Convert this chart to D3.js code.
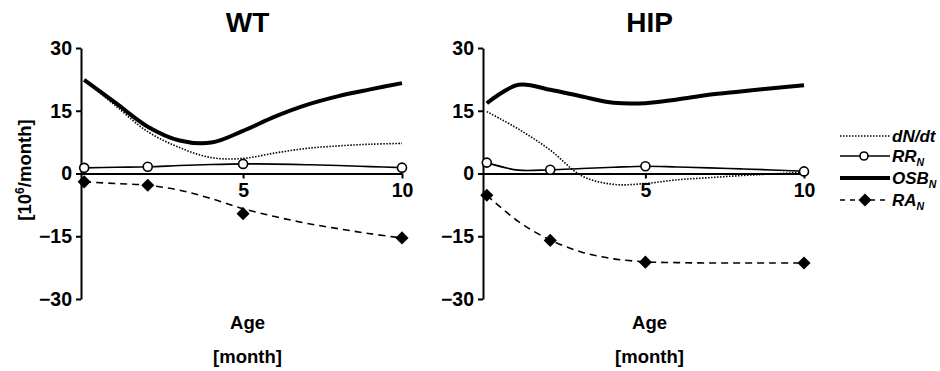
<!DOCTYPE html>
<html>
<head>
  <meta charset="utf-8">
  <script src="https://cdn.jsdelivr.net/npm/d3@7/dist/d3.min.js"></script>
  <style>
    body { margin: 0; background: #fff; }
    text { font-family: "Liberation Sans", Arial, sans-serif; font-weight: bold; fill: #000; }
  </style>
</head>
<body>
  <div id="chart"></div>
<script>
  // data
  const panels = ["WT", "HIP"];
  const ageGrid = [0, 1, 2, 3, 4, 5, 6, 7, 8, 9, 10];
  const markerAges = [0, 2, 5, 10];
  const yTicks = [30, 15, 0, -15, -30];
  const xTicks = [5, 10];

  // WT
  const wtDNdt = [22.4, 16.1, 10.0, 6.2, 3.8, 3.6, 4.9, 6.0, 6.6, 7.0, 7.2];
  const wtOSB  = [22.4, 16.8, 11.2, 7.9, 7.4, 10.2, 13.6, 16.4, 18.5, 20.1, 21.6];
  const wtRR   = [1.35, 1.5, 1.6, 1.9, 2.15, 2.3, 2.25, 2.1, 1.9, 1.65, 1.4];
  const wtRA   = [-2.0, -2.4, -2.8, -4.0, -6.0, -8.4, -10.3, -11.9, -13.2, -14.4, -15.4];
  const wtRRMarkers = [1.35, 1.6, 2.3, 1.4];
  const wtRAMarkers = [-2.0, -2.8, -9.6, -15.4];

  // HIP
  const hipDNdt = [14.8, 10.6, 5.6, -0.6, -2.6, -2.4, -1.5, -1.0, -0.5, -0.1, 0.3];
  const hipOSB  = [16.8, 21.2, 20.0, 18.4, 16.9, 16.8, 17.7, 18.8, 19.6, 20.4, 21.1];
  const hipRR   = [2.6, 0.8, 0.9, 1.2, 1.5, 1.75, 1.55, 1.35, 1.1, 0.85, 0.55];
  const hipRA   = [-5.2, -11.5, -15.9, -18.8, -20.4, -21.1, -21.3, -21.4, -21.4, -21.4, -21.4];
  const hipRRMarkers = [2.6, 0.9, 1.75, 0.5];
  const hipRAMarkers = [-5.2, -16.0, -21.2, -21.4];

  const width = 940, height = 371;

  const svg = d3.select("#chart")
    .append("svg")
      .attr("width", width)
      .attr("height", height);

  const y = d3.scaleLinear()
    .domain([-30, 30])
    .range([299, 48]);

  const xWT = d3.scaleLinear().domain([-0.1, 10]).range([81, 402]);
  const xHIP = d3.scaleLinear().domain([-0.12, 10]).range([483, 804]);

  const panelData = [
    {name: panels[0], x: xWT, dndt: wtDNdt, osb: wtOSB, rr: wtRR, ra: wtRA, rrM: wtRRMarkers, raM: wtRAMarkers},
    {name: panels[1], x: xHIP, dndt: hipDNdt, osb: hipOSB, rr: hipRR, ra: hipRA, rrM: hipRRMarkers, raM: hipRAMarkers}
  ];

  const diamond = d3.symbol().type(d3.symbolDiamond2).size(110);

  panelData.forEach((p, i) => {
    const x = p.x;
    const g = svg.append("g");
    const cx = (x.range()[0] + x.range()[1]) / 2 + 6;

    // y axis
    const yAxis = g.append("g")
      .attr("transform", "translate(" + x.range()[0] + ",0)")
      .call(d3.axisLeft(y).tickValues(yTicks).tickSize(5).tickSizeOuter(0).tickPadding(4));
    yAxis.selectAll("text").style("font-size", "19.5px");

    // x axis on the zero line
    const xAxis = g.append("g")
      .attr("transform", "translate(0," + y(0) + ")")
      .call(d3.axisBottom(x).tickValues(xTicks).tickSize(5).tickSizeOuter(0).tickPadding(5));
    xAxis.selectAll("text").style("font-size", "19.5px");

    g.selectAll(".domain, .tick line").attr("stroke", "#000").attr("stroke-width", 2);

    const line = d3.line()
      .x((d, j) => x(ageGrid[j]))
      .y(d => y(d))
      .curve(d3.curveCatmullRom.alpha(0.5));

    g.append("path").attr("d", line(p.dndt))
      .attr("fill", "none").attr("stroke", "#000").attr("stroke-width", 1.6)
      .attr("stroke-dasharray", "1.5,1.5");
    g.append("path").attr("d", line(p.rr))
      .attr("fill", "none").attr("stroke", "#000").attr("stroke-width", 1.6);
    g.append("path").attr("d", line(p.ra))
      .attr("fill", "none").attr("stroke", "#000").attr("stroke-width", 1.6)
      .attr("stroke-dasharray", "7,5");
    g.append("path").attr("d", line(p.osb))
      .attr("fill", "none").attr("stroke", "#000").attr("stroke-width", 4);

    g.selectAll(".rr").data(p.rrM).enter()
      .append("circle")
        .attr("cx", (d, j) => x(markerAges[j]))
        .attr("cy", d => y(d))
        .attr("r", 4.5)
        .attr("fill", "#fff").attr("stroke", "#000").attr("stroke-width", 1.6);

    g.selectAll(".ra").data(p.raM).enter()
      .append("path")
        .attr("d", diamond)
        .attr("transform", (d, j) => "translate(" + x(markerAges[j]) + "," + y(d) + ")")
        .attr("fill", "#000");

    // titles
    g.append("text").attr("x", cx).attr("y", 32).attr("text-anchor", "middle")
      .style("font-size", "28px").text(p.name);
    g.append("text").attr("x", cx).attr("y", 329).attr("text-anchor", "middle")
      .style("font-size", "18.5px").text("Age");
    g.append("text").attr("x", cx).attr("y", 363).attr("text-anchor", "middle")
      .style("font-size", "18.5px").text("[month]");
  });

  // y axis label
  const yl = svg.append("text")
    .attr("transform", "translate(31,170) rotate(-90)")
    .attr("text-anchor", "middle")
    .style("font-size", "18.5px");
  yl.append("tspan").text("[10");
  yl.append("tspan").attr("dy", -7).style("font-size", "12px").text("6");
  yl.append("tspan").attr("dy", 7).text("/month]");

  // legend
  const legendItems = [
    {label: "dN/dt", sub: "", y: 136, dash: "1.5,1.5", w: 1.6, marker: null},
    {label: "RR", sub: "N", y: 156, dash: null, w: 1.6, marker: "circle"},
    {label: "OSB", sub: "N", y: 178, dash: null, w: 4, marker: null},
    {label: "RA", sub: "N", y: 200, dash: "5,5", w: 1.6, marker: "diamond"}
  ];
  const lg = svg.append("g");
  legendItems.forEach(it => {
    lg.append("line").attr("x1", 840).attr("x2", 890).attr("y1", it.y).attr("y2", it.y)
      .attr("stroke", "#000").attr("stroke-width", it.w)
      .attr("stroke-dasharray", it.dash);
    if (it.marker === "circle") {
      lg.append("circle").attr("cx", 864).attr("cy", it.y).attr("r", 4)
        .attr("fill", "#fff").attr("stroke", "#000").attr("stroke-width", 1.6);
    } else if (it.marker === "diamond") {
      lg.append("path").attr("d", diamond).attr("transform", "translate(865," + it.y + ")");
    }
    const t = lg.append("text").attr("x", 892).attr("y", it.y + 6)
      .style("font-size", "17px").style("font-style", "italic");
    t.append("tspan").text(it.label);
    if (it.sub) t.append("tspan").attr("dy", 4).style("font-size", "10.5px").text(it.sub);
  });
</script>
</body>
</html>
